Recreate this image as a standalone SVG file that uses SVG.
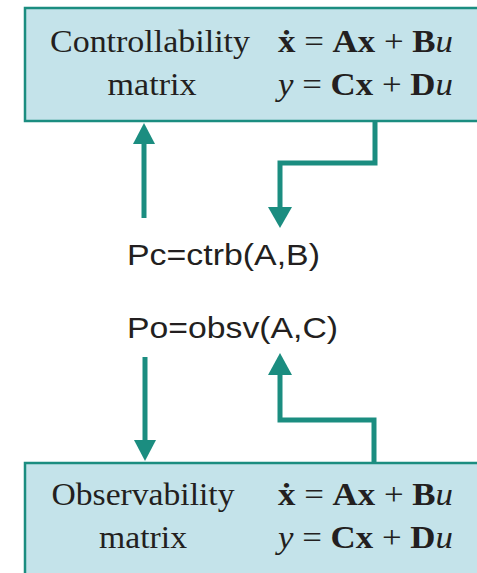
<svg xmlns="http://www.w3.org/2000/svg" width="477" height="573" viewBox="0 0 477 573">
<defs>
<style>
.box{fill:#c4e3ea;stroke:#1b8d80;stroke-width:2.5}
.lbl{font-family:"Liberation Serif","Times New Roman",serif;font-size:32px;fill:#231f20}
.eq{font-family:"Liberation Serif","Times New Roman",serif;font-size:32px;fill:#231f20}
.b{font-weight:bold}
.i{font-style:italic}
.cmd{font-family:"Liberation Sans",Arial,sans-serif;font-size:29px;fill:#231f20}
.conn{fill:none;stroke:#1b8d80;stroke-width:5}
.head{fill:#1b8d80}
</style>
</defs>
<rect width="477" height="573" fill="#ffffff"/>
<g id="ctrb-box">
<rect class="box" x="25" y="8" width="460" height="113"/>
<text class="lbl" x="150" y="52" text-anchor="middle" textLength="200" lengthAdjust="spacingAndGlyphs">Controllability</text>
<text class="lbl" x="152" y="95" text-anchor="middle" textLength="89" lengthAdjust="spacingAndGlyphs">matrix</text>
<text class="eq" x="278" y="52" textLength="175" lengthAdjust="spacingAndGlyphs"><tspan class="b">ẋ</tspan> = <tspan class="b">Ax</tspan> + <tspan class="b">B</tspan><tspan class="i">u</tspan></text>
<text class="eq" x="278" y="95" textLength="175" lengthAdjust="spacingAndGlyphs"><tspan class="i">y</tspan> = <tspan class="b">Cx</tspan> + <tspan class="b">D</tspan><tspan class="i">u</tspan></text>
</g>
<g id="obsv-box">
<rect class="box" x="25" y="463" width="460" height="120"/>
<text class="lbl" x="143" y="505" text-anchor="middle" textLength="183" lengthAdjust="spacingAndGlyphs">Observability</text>
<text class="lbl" x="143" y="548" text-anchor="middle" textLength="88" lengthAdjust="spacingAndGlyphs">matrix</text>
<text class="eq" x="278" y="505" textLength="175" lengthAdjust="spacingAndGlyphs"><tspan class="b">ẋ</tspan> = <tspan class="b">Ax</tspan> + <tspan class="b">B</tspan><tspan class="i">u</tspan></text>
<text class="eq" x="278" y="548" textLength="175" lengthAdjust="spacingAndGlyphs"><tspan class="i">y</tspan> = <tspan class="b">Cx</tspan> + <tspan class="b">D</tspan><tspan class="i">u</tspan></text>
</g>
<g id="ctrb-cmd">
<text class="cmd" x="127" y="265" textLength="193" lengthAdjust="spacingAndGlyphs">Pc=ctrb(A,B)</text>
</g>
<g id="obsv-cmd">
<text class="cmd" x="127" y="338" textLength="211" lengthAdjust="spacingAndGlyphs">Po=obsv(A,C)</text>
</g>
<g id="connectors">
<path class="conn" d="M144,218 V140"/>
<polygon class="head" points="144,123 133,144 155,144"/>
<path class="conn" d="M375,122 V163 H280 V210"/>
<polygon class="head" points="280,228 268,207 292,207"/>
<path class="conn" d="M145,357 V442"/>
<polygon class="head" points="145,461 134,440 156,440"/>
<path class="conn" d="M374,462 V420 H280 V372"/>
<polygon class="head" points="280,353 268,375 292,375"/>
</g>
</svg>
